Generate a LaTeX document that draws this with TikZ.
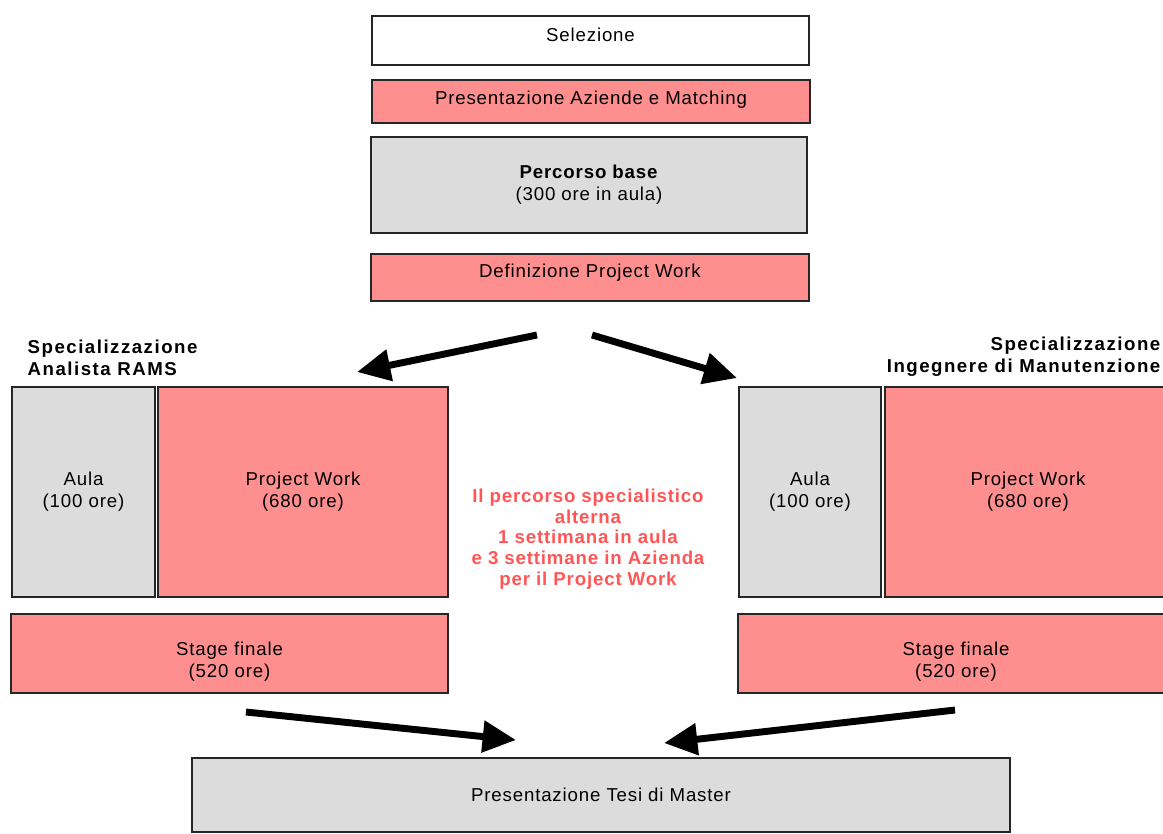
\documentclass[tikz,border=0pt]{standalone}
\usepackage{fontspec}
\setmainfont{Liberation Sans}[LetterSpace=4.5]
\usepackage{tikz}
\usetikzlibrary{arrows.meta}

\definecolor{pinkfill}{RGB}{255,143,143}
\definecolor{grayfill}{RGB}{220,220,220}
\definecolor{notered}{RGB}{255,85,85}

\begin{document}
\begin{tikzpicture}[x=0.75pt, y=-0.75pt,
    box/.style={draw=black!85, line width=0.9pt, inner sep=0pt, align=center,
        font=\fontsize{14}{16.5}\selectfont},
    whitebox/.style={box, fill=white},
    pinkbox/.style={box, fill=pinkfill},
    graybox/.style={box, fill=grayfill},
    stagetext/.style={font=\fontsize{14}{16.5}\selectfont, align=center, yshift=-6pt},
    headtext/.style={font=\fontsize{14}{16.5}\selectfont\bfseries\addfontfeatures{LetterSpace=8}},
    bigarrow/.style={line width=5.2pt, -{Triangle[length=25pt, width=23pt]}}]
    \clip (0,0) rectangle (1163,833);
    \useasboundingbox (0,0) rectangle (1163,833);

    % Percorso comune
    \node[whitebox, minimum width=327.75pt, minimum height=36.75pt, text depth=9pt] (sel) at (590.5,40.5) {Selezione};
    \node[pinkbox, minimum width=328.5pt, minimum height=32.25pt, text depth=6pt] (match) at (591,101.5) {Presentazione Aziende e Matching};
    \node[graybox, minimum width=327pt, minimum height=72pt] (base) at (589,185) {\textbf{Percorso base}\\(300 ore in aula)};
    \node[pinkbox, minimum width=328.5pt, minimum height=35.25pt, text depth=10pt] (defpw) at (590,277.5) {Definizione Project Work};

    % Specializzazione RAMS
    \node[headtext, align=left, anchor=west] (headL) at (23,358) {Specializzazione\\Analista RAMS};
    \node[graybox, minimum width=107.25pt, minimum height=157.5pt] (aulaL) at (83.5,492) {Aula\\(100 ore)};
    \node[pinkbox, minimum width=217.5pt, minimum height=157.5pt] (pwL) at (303,492) {Project Work\\(680 ore)};
    \node[pinkbox, minimum width=327.75pt, minimum height=59.25pt,
        label={[stagetext, name=stageL-t]center:Stage finale\\(520 ore)}] (stageL) at (229.5,653.5) {};

    % Specializzazione Manutenzione
    \node[headtext, align=right, anchor=east] (headR) at (1165,357) {Specializzazione\\Ingegnere di Manutenzione};
    \node[graybox, minimum width=106.5pt, minimum height=157.5pt] (aulaR) at (810,492) {Aula\\(100 ore)};
    \node[pinkbox, minimum width=214.5pt, minimum height=157.5pt] (pwR) at (1028,492) {Project Work\\(680 ore)};
    \node[pinkbox, minimum width=327pt, minimum height=59.25pt,
        label={[stagetext, name=stageR-t]center:Stage finale\\(520 ore)}] (stageR) at (956,653.5) {};

    % Nota centrale
    \node[font=\fontsize{14}{15.5}\selectfont\bfseries, text=notered, align=center] (nota) at (588,539)
        {Il percorso specialistico\\alterna\\1 settimana in aula\\e 3 settimane in Azienda\\per il Project Work};

    % Tesi
    \node[graybox, minimum width=613.5pt, minimum height=55.5pt] (tesi) at (601,795) {Presentazione Tesi di Master};

    % Frecce
    \coordinate (a1s) at (537,335);
    \coordinate (a1e) at (357,372);
    \coordinate (a2s) at (592,335);
    \coordinate (a2e) at (737,378);
    \coordinate (a3s) at (246,712);
    \coordinate (a3e) at (516,740);
    \coordinate (a4s) at (955,710);
    \coordinate (a4e) at (664,743);
    \draw[bigarrow] (a1s) -- (a1e);
    \draw[bigarrow] (a2s) -- (a2e);
    \draw[bigarrow] (a3s) -- (a3e);
    \draw[bigarrow] (a4s) -- (a4e);
\end{tikzpicture}
\end{document}
